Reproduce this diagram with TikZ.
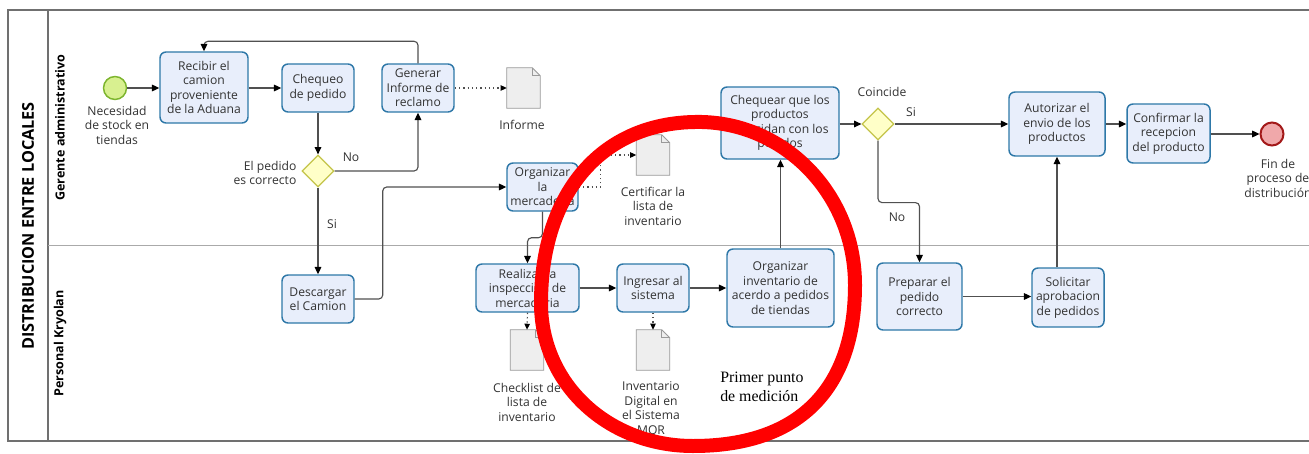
\documentclass[tikz,border=0pt]{standalone}
\usepackage{fontspec}
\setmainfont{Open Sans}
\newfontfamily\serifnote{Liberation Serif}
\usetikzlibrary{arrows.meta,shapes.geometric,calc}

\definecolor{taskfill}{HTML}{E8EEFB}
\definecolor{taskline}{HTML}{2E78A8}
\definecolor{gatefill}{HTML}{FFFFC8}
\definecolor{gateline}{HTML}{C4C44A}
\definecolor{startfill}{HTML}{D8F090}
\definecolor{startline}{HTML}{7DB52E}
\definecolor{endfill}{HTML}{F0A8AA}
\definecolor{endline}{HTML}{A31919}
\definecolor{docfill}{HTML}{EEEEEE}
\definecolor{docline}{HTML}{9A9A9A}
\definecolor{txt}{HTML}{333333}
\definecolor{flowline}{HTML}{505050}
\definecolor{poolline}{HTML}{707070}
\definecolor{laneline}{HTML}{AAAAAA}
\definecolor{marker}{HTML}{FF0000}

\newcommand\lbl{\fontsize{9.1}{10.9}\selectfont}

% data object with a folded corner, drawn around an empty node
\newcommand\docshape[1]{%
  \filldraw[fill=docfill, draw=docline, line width=0.7pt]
    (#1.north west) -- ([xshift=-6pt]#1.north east) -- ([yshift=-6pt]#1.north east)
    -- (#1.south east) -- (#1.south west) -- cycle;
  \draw[docline, line width=0.7pt]
    ([xshift=-6pt]#1.north east) -- ([xshift=-6pt,yshift=-6pt]#1.north east)
    -- ([yshift=-6pt]#1.north east);}

\begin{document}
\begin{tikzpicture}[x=0.75pt,y=-0.75pt,
  box/.style 2 args={minimum width=#1*0.75pt, minimum height=#2*0.75pt},
  task/.style={draw=taskline, fill=taskfill, line width=1.1pt, rounded corners=4.5pt,
    align=center, inner sep=1pt, font=\lbl, text=txt},
  gate/.style={diamond, draw=gateline, fill=gatefill, line width=0.9pt,
    minimum width=32*0.75pt, minimum height=32*0.75pt, inner sep=0pt},
  startev/.style={circle, draw=startline, fill=startfill, line width=1.1pt,
    minimum size=23*0.75pt, inner sep=0pt},
  endev/.style={circle, draw=endline, fill=endfill, line width=1.5pt,
    minimum size=23*0.75pt, inner sep=0pt},
  docnode/.style={minimum width=33*0.75pt, minimum height=40*0.75pt, inner sep=0pt},
  lab/.style={align=center, font=\lbl, text=txt, inner sep=0pt},
  flow/.style={draw=flowline, line width=0.85pt, rounded corners=3pt,
    -{Triangle[length=5.5pt,width=5pt,color=black]}},
  assoc/.style={draw=flowline, line width=0.9pt, dash pattern=on 1pt off 2.2pt,
    -{Triangle[length=4.5pt,width=4pt,color=black]}},
]
\useasboundingbox (0,0) rectangle (1309,453);
\fill[white] (0,0) rectangle (1309,453);

% pool and lanes
\draw[poolline, line width=0.9pt] (1309,10) -- (8,10) -- (8,441) -- (1309,441);
\draw[poolline, line width=0.9pt] (48,10) -- (48,441);
\draw[laneline, line width=1pt] (48,245.5) -- (1309,245.5);
\node[rotate=90, font=\bfseries\fontsize{12.2}{13}\selectfont] (pool) at (28,226) {DISTRIBUCION ENTRE LOCALES};
\node[rotate=90, font=\bfseries\fontsize{9.4}{11}\selectfont] (laneA) at (60,127.5) {Gerente administrativo};
\node[rotate=90, font=\bfseries\fontsize{9.4}{11}\selectfont] (laneB) at (60,343.5) {Personal Kryolan};

% events and gateways
\node[startev] (inicio) at (115,88) {};
\node[lab] (inicioLbl) at (117,125) {Necesidad\\de stock en\\tiendas};
\node[endev] (fin) at (1272,134) {};
\node[lab] (finLbl) at (1278,178) {Fin de\\proceso de\\distribución};
\node[gate] (g1) at (318,171) {};
\node[gate] (g2) at (878,124) {};

% tasks
\node[task, box={88}{71}] (recibir) at (204,87.5) {Recibir el\\camion\\proveniente\\de la Aduana};
\node[task, box={72}{48}] (chequeo) at (318,88) {Chequeo\\de pedido};
\node[task, box={72}{48}] (generar) at (418,88) {Generar\\Informe de\\reclamo};
\node[task, box={72}{48}] (descargar) at (318,299) {Descargar\\el Camion};
\node[task, box={71}{48}] (orgmerc) at (542.5,187) {Organizar\\la\\mercaderia};
\node[task, box={103}{48}] (realizar) at (527.5,288) {Realizar la\\inspeccion de\\mercaderia};
\node[task, box={72}{48}] (ingresar) at (653,288) {Ingresar al\\sistema};
\node[task, box={107}{78}] (orginv) at (780.5,288) {Organizar\\inventario de\\acerdo a pedidos\\de tiendas};
\node[task, box={118}{72}] (chequear) at (780,123) {Chequear que los\\productos\\coincidan con los\\pedidos};
\node[task, box={96}{64}] (autorizar) at (1057,124) {Autorizar el\\envio de los\\productos};
\node[task, box={83}{59}] (confirmar) at (1168.5,133.5) {Confirmar la\\recepcion\\del producto};
\node[task, box={85}{67}] (preparar) at (919.5,296.5) {Preparar el\\pedido\\correcto};
\node[task, box={72}{59}] (solicitar) at (1068,297.5) {Solicitar\\aprobacion\\de pedidos};

% data objects
\node[docnode] (docInforme) at (523.5,88) {};
\node[docnode] (docCert) at (653,155) {};
\node[docnode] (docCheck) at (527,350) {};
\node[docnode] (docInv) at (653,350) {};
\docshape{docInforme}
\docshape{docCert}
\docshape{docCheck}
\docshape{docInv}
\node[lab] (docInformeLbl) at (522,125) {Informe};
\node[lab] (docCertLbl) at (653,206) {Certificar la\\lista de\\inventario};
\node[lab] (docCheckLbl) at (527,402) {Checklist de\\lista de\\inventario};
\node[lab] (docInvLbl) at (651,409) {Inventario\\Digital en\\el Sistema\\MQR};

% gateway labels
\node[lab, align=right] (g1Lbl) at (265,173) {El pedido\\es correcto};
\node[lab] (g1No) at (351,157) {No};
\node[lab] (g1Si) at (332,224) {Si};
\node[lab] (g2Lbl) at (882,92) {Coincide};
\node[lab] (g2Si) at (911,112) {Si};
\node[lab] (g2No) at (897,217) {No};

% sequence flows
\draw[flow] (inicio) -- (inicio -| recibir.west);
\draw[flow] (recibir.east |- chequeo.west) -- (chequeo.west);
\draw[flow] (chequeo.south) -- (g1.north);
\draw[flow] (g1.east) -| (generar.south);
\draw[flow] (generar.north) -- ++(0,-22) -| (recibir.north);
\draw[flow] (g1.south) -- (descargar.north);
\draw[flow] (descargar.east) -- ++(28,0) |- (orgmerc.west);
\draw[flow] (orgmerc.south) -- ++(0,26) -| (realizar.north);
\draw[flow] (realizar.east) -- (ingresar.west);
\draw[flow] (ingresar.east) -- (ingresar.east -| orginv.west);
\draw[flow] (orginv.north) -- (orginv.north |- chequear.south);
\draw[flow] (chequear.east |- g2.west) -- (g2.west);
\draw[flow] (g2.east) -- (g2.east -| autorizar.west);
\draw[flow] (g2.south) -- ++(0,62) -| (preparar.north);
\draw[flow] (preparar.east) -- (preparar.east -| solicitar.west);
\draw[flow] (solicitar.north -| autorizar.south) -- (autorizar.south);
\draw[flow] (autorizar.east) -- (autorizar.east -| confirmar.west);
\draw[flow] (confirmar.east |- fin.west) -- (fin.west);

% data associations
\draw[assoc] (generar.east) -- (docInforme.west);
\draw[assoc] (orgmerc.east) -- ++(22,0) |- (docCert.west);
\draw[assoc] (realizar.south) -- (docCheck.north);
\draw[assoc] (ingresar.south) -- (docInv.north);

% measurement note
\node[anchor=west, align=left, inner sep=0pt, font=\serifnote\fontsize{11.9}{14.3}\selectfont] (nota) at (720,386.5) {Primer punto\\de medición};

% hand-drawn highlight ring
\draw[marker, line width=10.5pt, line cap=round, line join=round]
  (702,122) .. controls (786,124) and (855,195) .. (855,285)
  .. controls (855,385) and (803,446) .. (693,446)
  .. controls (609,446) and (541,385) .. (541,303)
  .. controls (541,193) and (602,120) .. (702,122);
\end{tikzpicture}
\end{document}
